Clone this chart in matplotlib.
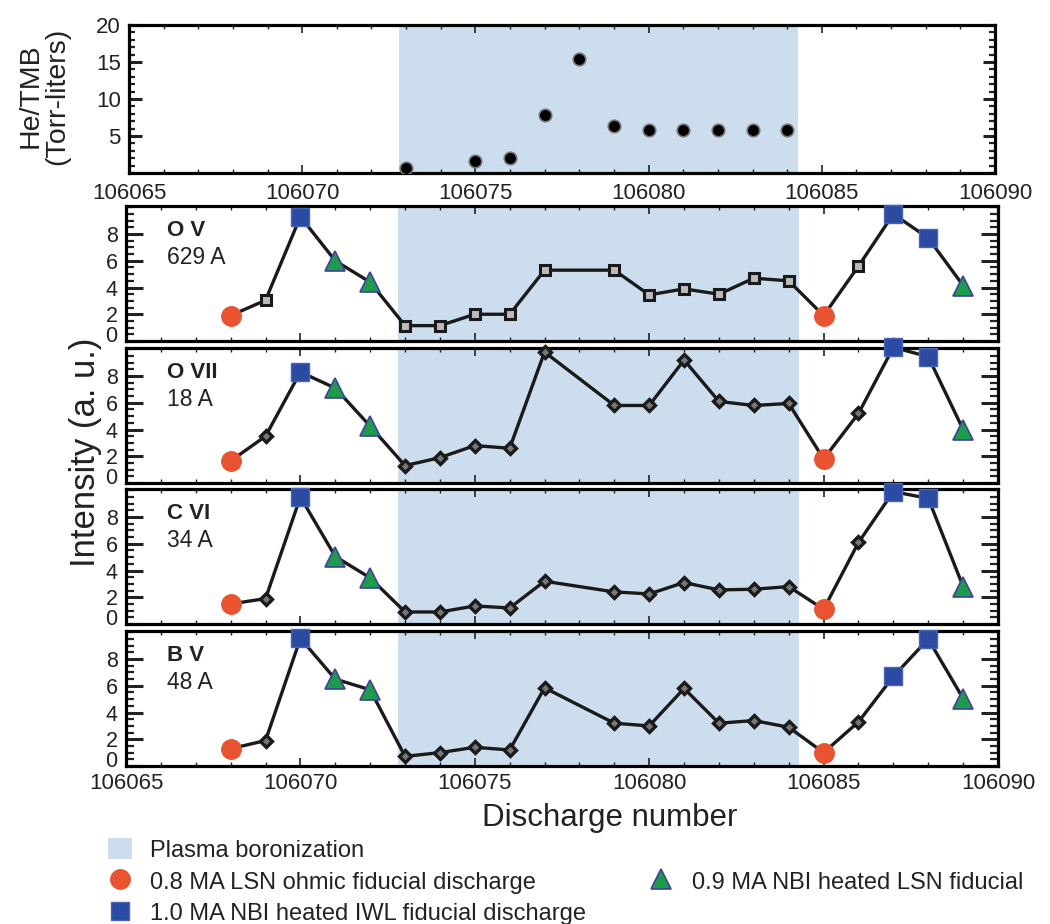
import numpy as np
import matplotlib.pyplot as plt
import matplotlib.transforms as mtransforms
from matplotlib.patches import Patch
from matplotlib.lines import Line2D
from matplotlib.ticker import MultipleLocator

plt.rcParams['font.family'] = ['Liberation Sans', 'DejaVu Sans']

# --- Data ---
gas_shots = [106073, 106075, 106076, 106077, 106078, 106079, 106080, 106081, 106082, 106083, 106084]
he_tmb = [0.7, 1.6, 2.0, 7.9, 15.4, 6.3, 5.85, 5.85, 5.85, 5.85, 5.85]

shots = [106068, 106069, 106070, 106071, 106072,
         106073, 106074, 106075, 106076, 106077, 106079, 106080, 106081, 106082, 106083, 106084,
         106085, 106086, 106087, 106088, 106089]
kind = ['ohmic', 'plain', 'iwl', 'lsn', 'lsn'] + ['plain'] * 11 + ['ohmic', 'plain', 'iwl', 'iwl', 'lsn']

ov = [1.9, 3.05, 9.3, 6.0, 4.4, 1.15, 1.15, 2.0, 2.0, 5.3, 5.3, 3.45, 3.9, 3.5, 4.7, 4.5, 1.9, 5.6, 9.5, 7.7, 4.15]
ovii = [1.65, 3.5, 8.3, 7.1, 4.25, 1.3, 1.9, 2.8, 2.6, 9.8, 5.8, 5.8, 9.2, 6.1, 5.8, 5.95, 1.8, 5.2, 10.15, 9.45, 4.0]
cvi = [1.5, 1.9, 9.5, 5.05, 3.45, 0.9, 0.9, 1.35, 1.2, 3.2, 2.4, 2.25, 3.1, 2.55, 2.6, 2.8, 1.1, 6.1, 9.9, 9.4, 2.8]
bv = [1.3, 1.9, 9.55, 6.5, 5.7, 0.72, 1.0, 1.4, 1.2, 5.85, 3.2, 3.0, 5.8, 3.2, 3.4, 2.9, 1.0, 3.3, 6.7, 9.5, 5.05]

lines_name = ['O V', 'O VII', 'C VI', 'B V']
lines_wl = ['629 A', '18 A', '34 A', '48 A']
series = [ov, ovii, cvi, bv]

boron_start, boron_end = 106072.8, 106084.3

# --- Styles ---
shade = '#CCDDEE'
red = '#E9532F'
blue = '#2B4BA3'
green = '#1E9B4A'
tri_edge = '#4040A0'

styles = {
    'ohmic': dict(marker='o', ms=14, mfc=red, mec=red, mew=1),
    'iwl': dict(marker='s', ms=13, mfc=blue, mec='#4A64B5', mew=1),
    'lsn': dict(marker='^', ms=14, mfc=green, mec=tri_edge, mew=1.2),
}

fig = plt.figure(figsize=(10.5, 9.24), dpi=100)

def style_axes(ax, ymajor, yminor):
    for s in ax.spines.values():
        s.set_linewidth(2.3)
    ax.xaxis.set_major_locator(MultipleLocator(5))
    ax.xaxis.set_minor_locator(MultipleLocator(1))
    ax.yaxis.set_major_locator(MultipleLocator(ymajor))
    ax.yaxis.set_minor_locator(MultipleLocator(yminor))
    ax.tick_params(which='both', direction='in', top=True, right=True, colors='#222222')
    ax.tick_params(axis='y', which='major', length=12, width=2.2, labelsize=15.5, pad=6)
    ax.tick_params(axis='y', which='minor', length=6, width=1.6)
    ax.tick_params(axis='x', which='major', length=6, width=1.2, labelsize=16)
    ax.tick_params(axis='x', which='minor', length=3, width=1.0)
    ax.ticklabel_format(useOffset=False)
    ax.set_xlim(106065, 106090)

# --- Top panel: He/TMB ---
ax0 = fig.add_axes([129 / 1050, 1 - 173 / 924, 866 / 1050, 148 / 924])
ax0.axvspan(boron_start, boron_end, color=shade, lw=0, zorder=0)
ax0.plot(gas_shots, he_tmb, 'o', ms=9, mfc='black', mec='#777777', mew=1.2, zorder=3)
style_axes(ax0, 5, 1)
ax0.set_ylim(0, 20)
ax0.set_yticks([5, 10, 15, 20])
ax0.tick_params(axis='y', which='major', length=9, labelsize=16)
ax0.tick_params(axis='y', which='minor', length=4)
ax0.tick_params(axis='x', which='major', pad=7)
fig.text(0.042, 1 - 96 / 924, 'He/TMB\n(Torr-liters)', rotation=90, ha='center', va='center',
         fontsize=20.5, linespacing=1.0, color='#222222')

# --- Spectral line panels ---
panel_rows = [(206, 341), (348, 483), (489, 624), (631, 766)]
lift = mtransforms.ScaledTranslation(0, 5 / 72, fig.dpi_scale_trans)
axes = []
for i, (top, bot) in enumerate(panel_rows):
    ax = fig.add_axes([126 / 1050, 1 - bot / 924, 872 / 1050, (bot - top) / 924])
    ax.axvspan(boron_start, boron_end, color=shade, lw=0, zorder=0)
    vals = series[i]
    if i == 0:
        small = dict(marker='s', ms=7.5, mfc='#bbbbbb', mec='#1a1a1a', mew=2.2)
    else:
        small = dict(marker='D', ms=6.5, mfc='#777777', mec='#1a1a1a', mew=2.4)
    ax.plot(shots, vals, '-', color='#1a1a1a', lw=2.4, zorder=2, clip_on=False)
    px = [s for s, k in zip(shots, kind) if k == 'plain']
    py = [v for v, k in zip(vals, kind) if k == 'plain']
    ax.plot(px, py, ls='none', zorder=3, clip_on=False, **small)
    for k, st in styles.items():
        kx = [s for s, kk in zip(shots, kind) if kk == k]
        ky = [v for v, kk in zip(vals, kind) if kk == k]
        ax.plot(kx, ky, ls='none', zorder=4, clip_on=False, **st)
    style_axes(ax, 2, 0.5)
    ax.set_ylim(0, 10.1)
    ax.set_yticks([0, 2, 4, 6, 8])
    zero_label = ax.yaxis.get_major_ticks()[0].label1
    zero_label.set_transform(zero_label.get_transform() + lift)
    if i < 3:
        ax.tick_params(axis='x', labelbottom=False)
    else:
        ax.tick_params(axis='x', which='major', pad=5)
    ax.text(0.047, 0.82, lines_name[i], transform=ax.transAxes, fontsize=16, fontweight='bold',
            va='center', ha='left', color='#222222')
    ax.text(0.047, 0.62, lines_wl[i], transform=ax.transAxes, fontsize=16.5,
            va='center', ha='left', color='#222222')
    axes.append(ax)

fig.text(85 / 1050, 1 - 452 / 924, 'Intensity (a. u.)', rotation=90, ha='center', va='center',
         fontsize=25, color='#222222')
fig.text(610 / 1050, 1 - 818 / 924, 'Discharge number', ha='center', va='center',
         fontsize=22.5, color='#222222')

# --- Legend ---
blank = Line2D([], [], ls='none')
handles = [
    Patch(facecolor=shade, edgecolor='none'),
    Line2D([], [], ls='none', **styles['ohmic']),
    Line2D([], [], ls='none', **styles['iwl']),
    blank,
    Line2D([], [], ls='none', **styles['lsn']),
    blank,
]
labels = ['Plasma boronization', '0.8 MA LSN ohmic fiducial discharge',
          '1.0 MA NBI heated IWL fiducial discharge', '', '0.9 MA NBI heated LSN fiducial', '']
fig.legend(handles, labels, ncol=2, loc='upper left', bbox_to_anchor=(108 / 1050, 1 - 838 / 924),
           frameon=False, fontsize=17, handlelength=1.0, handleheight=1.0, handletextpad=0.8,
           columnspacing=2.65, labelspacing=0.35, borderpad=0, borderaxespad=0,
           labelcolor='#222222')

fig.savefig('out.png', dpi=100)
